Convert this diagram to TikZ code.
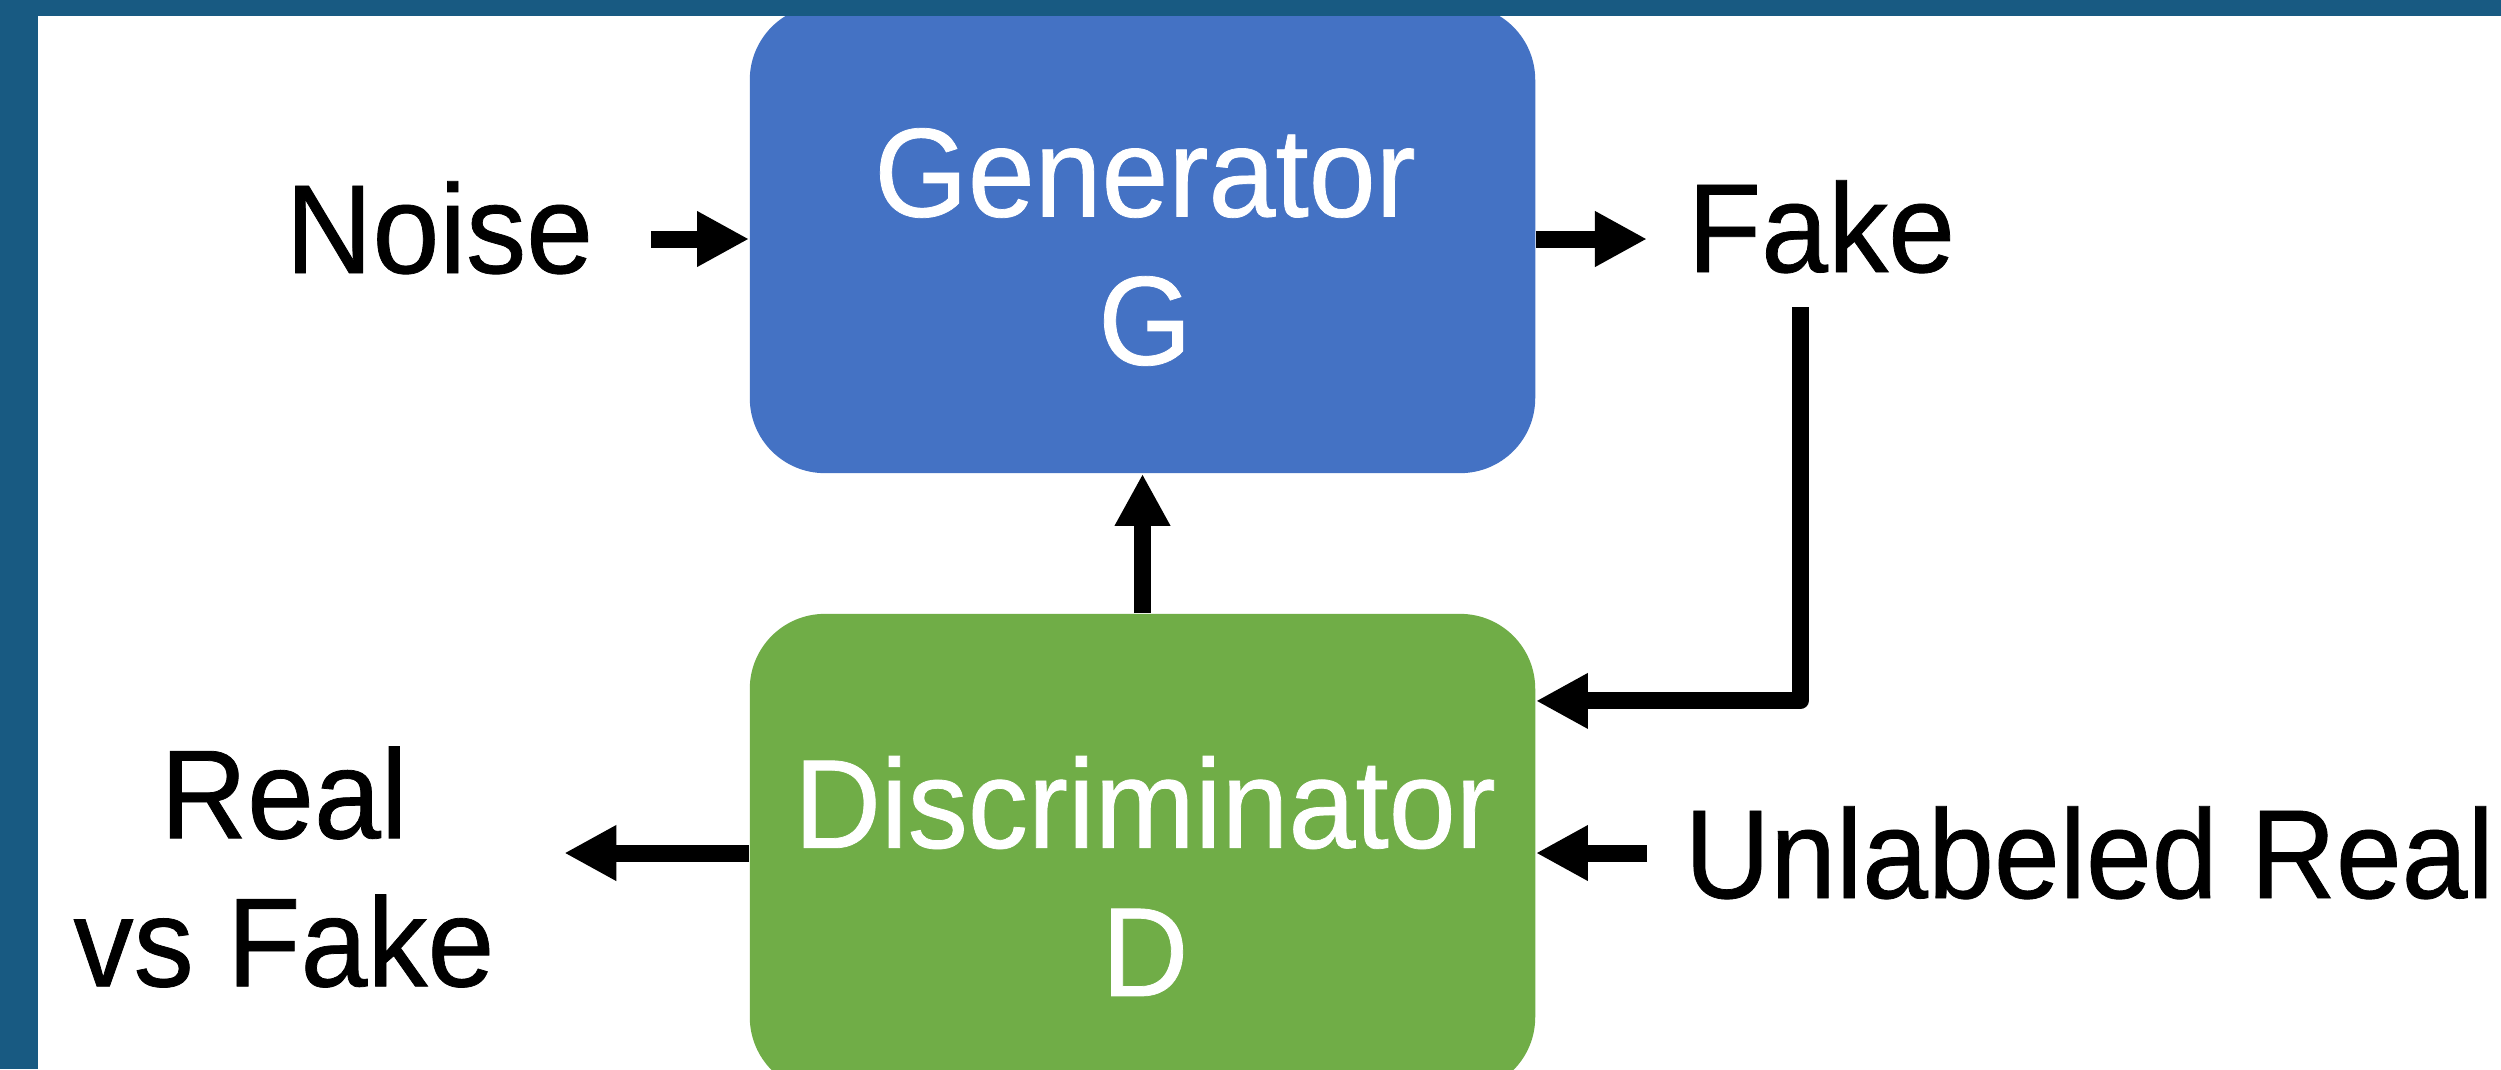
\documentclass[tikz,border=0pt]{standalone}
\usepackage{fontspec}
\setmainfont{Liberation Sans}[FakeStretch=0.95, FakeBold=0.6]
\newfontfamily\narrowlabel{Liberation Sans}[FakeStretch=0.935, FakeBold=0.6]
\usetikzlibrary{arrows.meta}
\definecolor{frameblue}{HTML}{185A82}
\definecolor{genblue}{HTML}{4472C4}
\definecolor{discgreen}{HTML}{70AD47}

\begin{document}
\begin{tikzpicture}[x=0.01cm, y=-0.01cm,
  lbl/.style={font=\fontsize{36pt}{42.1pt}\selectfont, inner sep=0pt, align=center},
  block/.style={rounded corners=0.75cm, minimum width=7.85cm, inner sep=0pt},
  arr/.style={line width=0.17cm, -{Triangle[length=0.52cm, width=0.52cm]}, line join=round},
]
\useasboundingbox (0,0) rectangle (2501,1069);
\clip (0,0) rectangle (2501,1069);
\fill[white] (0,0) rectangle (2501,1069);

% the two network blocks
\node[block, fill=genblue, minimum height=4.68cm] (G) at (1142.5,239) {};
\node[block, fill=discgreen, minimum height=4.78cm] (D) at (1142.5,853) {};

% block captions
\node[lbl, text=white] (Gtxt) at (1145,247) {Generator\\G};
\node[lbl, text=white] (Dtxt) at (1145,876) {Discriminator\\D};

% outside labels
\node[lbl, anchor=base west] (noise) at (285,273) {Noise};
\node[lbl, anchor=base west] (fake) at (1687,272) {Fake};
\node[lbl] (rvf) at (284,867) {Real\\vs Fake};
\node[lbl, anchor=base west, font=\narrowlabel\fontsize{36pt}{42.1pt}\selectfont] (unl) at (1684,898) {Unlabeled Real};

% data flow
\draw[arr] ([xshift=0.57cm]noise.east |- G.west) -- (G.west);
\draw[arr] (G.east) -- ([xshift=-0.40cm]fake.west |- G.east);
\draw[arr] ([xshift=1.13cm,yshift=-0.35cm]fake.base west) |- ([yshift=1.52cm]D.east);
\draw[arr] (D.north) -- (G.south);
\draw[arr] (D.west) -- ([xshift=0.69cm]rvf.east |- D.west);
\draw[arr] ([xshift=-0.37cm]unl.west |- D.east) -- (D.east);

% frame strips along the left and top edges
\fill[frameblue] (0,0) rectangle (2501,16);
\fill[frameblue] (0,0) rectangle (38,1069);
\end{tikzpicture}
\end{document}
